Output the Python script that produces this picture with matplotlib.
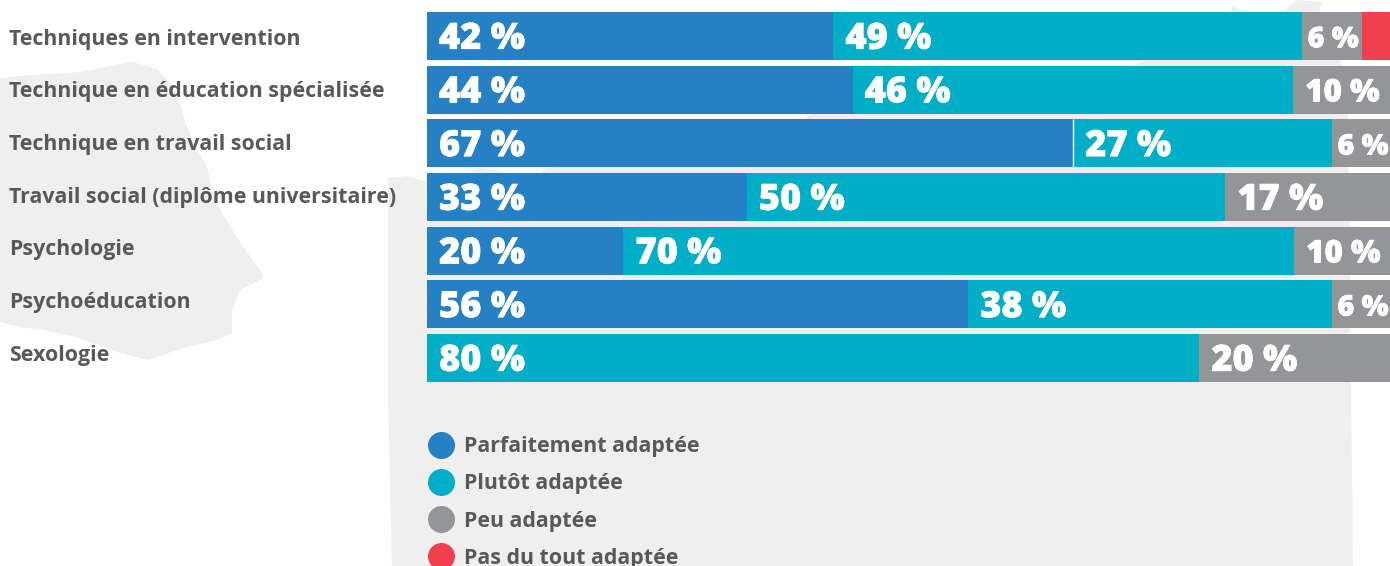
import numpy as np
import matplotlib
matplotlib.use('Agg')
import matplotlib.pyplot as plt
import matplotlib.patheffects as pe
from matplotlib.patches import Polygon

# prepare data
categories = ['Techniques en intervention', 'Technique en éducation spécialisée',
              'Technique en travail social', 'Travail social (diplôme universitaire)',
              'Psychologie', 'Psychoéducation', 'Sexologie']
parfaitement = [42.2, 44.2, 67.1, 33.2, 20.4, 56.2, 0]
plutot = [48.7, 45.7, 26.9, 49.7, 69.6, 37.8, 80.2]
peu = [6.2, 10.1, 6.0, 17.1, 10.0, 6.0, 19.8]
pas_du_tout = [2.9, 0, 0, 0, 0, 0, 0]

series = [parfaitement, plutot, peu, pas_du_tout]
legend_labels = ['Parfaitement adaptée', 'Plutôt adaptée', 'Peu adaptée', 'Pas du tout adaptée']
colors = ['#2581c4', '#00aec7', '#939598', '#f04050']

text_col = '#58595b'
map_col = '#efefef'
font = 'Open Sans'

# background map shapes, in pixels
map_left = [(0, 78), (33, 75), (80, 72), (117, 65), (133, 62), (157, 69), (170, 83), (182, 108),
            (185, 122), (197, 150), (207, 167), (213, 193), (222, 213), (243, 247), (262, 273),
            (263, 278), (240, 290), (232, 310), (232, 333), (217, 340), (187, 347), (147, 360),
            (110, 350), (77, 337), (43, 330), (20, 327), (0, 322)]
map_right = [(388, 178), (398, 177), (408, 176), (420, 180), (427, 182), (470, 173), (478, 168),
             (498, 170), (505, 173), (540, 173), (548, 168), (700, 150), (800, 120), (815, 113),
             (1000, 105), (1135, 65), (1150, 58), (1200, 35), (1230, 12), (1233, 6), (1245, 12),
             (1283, 12), (1297, 0), (1323, 2), (1319, 12), (1325, 40), (1341, 62), (1348, 113),
             (1350, 275), (1351, 382), (1353, 566), (392, 566), (388, 400)]

fig = plt.figure(figsize=(13.9, 5.66), dpi=100)

# pixel axes for the map, category names and legend
bg = fig.add_axes([0, 0, 1, 1])
bg.set_xlim(0, 1390)
bg.set_ylim(566, 0)
bg.axis('off')
bg.add_patch(Polygon(map_left, closed=True, color=map_col, lw=0))
bg.add_patch(Polygon(map_right, closed=True, color=map_col, lw=0))

for i, name in enumerate(categories):
    bg.text(9, 39 + 52.7 * i, name, fontsize=15.4, fontweight='bold', family=font,
            color=text_col, va='center', ha='left')

for i, name in enumerate(legend_labels):
    bg.scatter([441], [444.5 + 37.3 * i], s=378, color=colors[i], linewidths=0)
    bg.text(464, 446.5 + 37.3 * i, name, fontsize=15.4, fontweight='bold', family=font,
            color=text_col, va='center', ha='left')

# bars
top = 9.2 / 566
bottom = (566 - 384.9) / 566
ax = fig.add_axes([427 / 1390, bottom, 963 / 1390, 1 - top - bottom])
ax.patch.set_alpha(0)
y = np.arange(len(categories))
left = np.zeros(len(categories))
for vals, col in zip(series, colors):
    ax.barh(y, vals, 0.894, left=left, color=col, linewidth=0)
    for i, v in enumerate(vals):
        if v < 5:
            continue
        if v < 7:
            size, pad = 20.5, 0.55
        elif v < 10.5:
            size, pad = 22.5, 1.3
        else:
            size, pad = 26, 1.25
        t = ax.text(left[i] + pad, i + 0.07, '%d %%' % round(v),
                    fontsize=size, fontweight='black', family=font,
                    color='white', va='center', ha='left')
        t.set_path_effects([pe.withStroke(linewidth=0.5, foreground='white')])
    left += np.array(vals)

# thin white seam in the third row
ax.vlines(parfaitement[2], 2 - 0.447, 2 + 0.447, color='white', lw=1)

ax.set_xlim(0, 100)
ax.set_ylim(6.5, -0.5)
ax.axis('off')

plt.savefig('out.png', dpi=100)
